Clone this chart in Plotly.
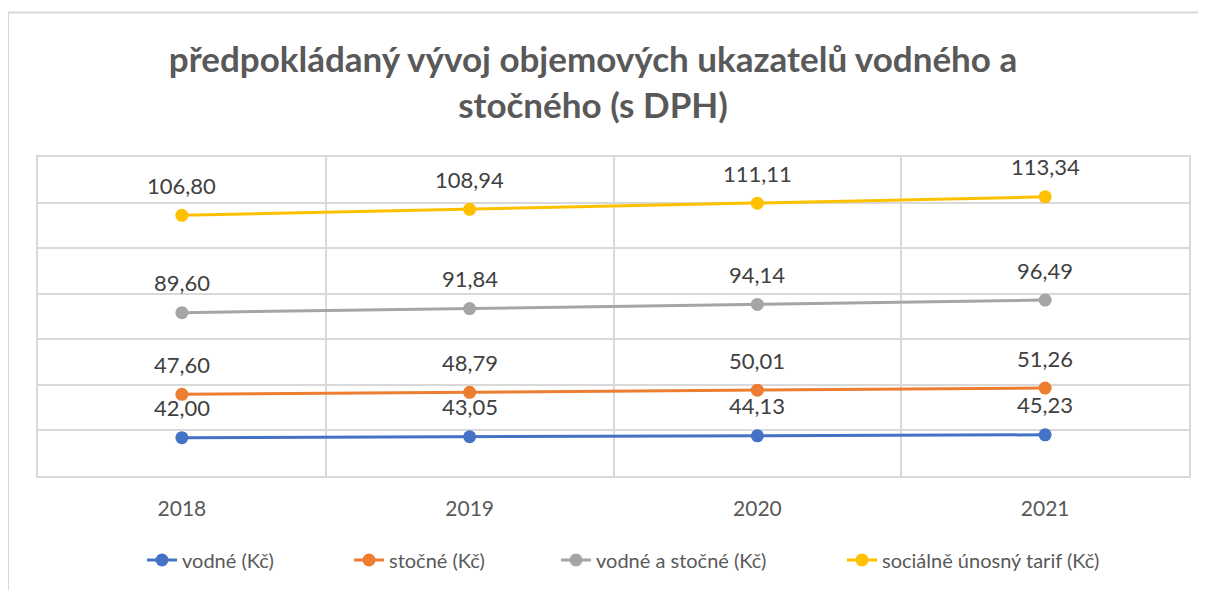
import numpy as np
import plotly.graph_objects as go

years = ["2018", "2019", "2020", "2021"]
vodne = [42.00, 43.05, 44.13, 45.23]
stocne = [47.60, 48.79, 50.01, 51.26]
vodne_a_stocne = [89.60, 91.84, 94.14, 96.49]
socialni_tarif = [106.80, 108.94, 111.11, 113.34]

series_names = ["vodné (Kč)", "stočné (Kč)", "vodné a stočné (Kč)", "sociálně únosný tarif (Kč)"]
series_values = [vodne, stocne, vodne_a_stocne, socialni_tarif]
colors = ["#4472C4", "#ED7D31", "#A5A5A5", "#FFC000"]

title_text = "předpokládaný vývoj objemových ukazatelů vodného a<br>stočného (s DPH)"

FONT = "Lato, Open Sans, sans-serif"
OFF = 8  # page body margin
W, H = 1206 - OFF, 590 - OFF
L, T = 38 - OFF, 157 - OFF
R, B = W - (1189 - OFF), H - (477 - OFF)
pw, ph = W - L - R, H - T - B


def px_x(p):
    return (p - OFF - L) / pw


def px_y(p):
    return (H - B - (p - OFF)) / ph


# stacked line chart: cumulative sums of the series
stacked = np.cumsum(np.array(series_values), axis=0)

legend_text_start = [184, 391, 598, 884]

fig = go.Figure()
annotations = []
layout_legends = {}
for k, (name, vals, cum, col) in enumerate(zip(series_names, series_values, stacked, colors)):
    lg = "legend" if k == 0 else f"legend{k + 1}"
    fig.add_trace(go.Scatter(
        x=list(range(len(years))), y=cum, name=name, mode="lines+markers",
        line=dict(color=col, width=3),
        marker=dict(color=col, size=13),
        hoverinfo="skip", legend=lg,
    ))
    layout_legends[lg] = dict(
        orientation="h", x=px_x(legend_text_start[k] - 42), xanchor="left",
        y=px_y(560), yanchor="middle", bgcolor="rgba(0,0,0,0)",
        font=dict(family=FONT, size=20, color="#595959"),
    )
    for i, (v, c) in enumerate(zip(vals, cum)):
        annotations.append(dict(
            x=i, y=c, xref="x", yref="y",
            text=f"{v:.2f}".replace(".", ","),
            showarrow=False, yshift=30,
            font=dict(family=FONT, size=22, color="#404040"),
        ))

fig.update_layout(
    width=W, height=H,
    margin=dict(l=L, r=R, t=T, b=B),
    paper_bgcolor="white", plot_bgcolor="white",
    title=dict(
        text=title_text,
        x=(593 - OFF) / W, xanchor="center", xref="container",
        y=1 - (72 - OFF) / H, yanchor="middle", yref="container",
        font=dict(family=FONT, size=35, color="#595959", weight="bold"),
    ),
    xaxis=dict(
        range=[-0.5, 3.5], tickmode="array",
        tickvals=list(range(len(years))), ticktext=years,
        showgrid=False,
        showline=True, linecolor="#D9D9D9", linewidth=1.5, mirror=True,
        ticks="", ticklabelstandoff=13,
        tickfont=dict(family=FONT, size=21, color="#595959"),
        zeroline=False, fixedrange=True,
        minor=dict(tickvals=[0.5, 1.5, 2.5], showgrid=True, gridcolor="#D9D9D9", gridwidth=1.5),
    ),
    yaxis=dict(
        range=[0, 350], dtick=50, tick0=0,
        showgrid=True, gridcolor="#D9D9D9", gridwidth=1.5,
        showline=True, linecolor="#D9D9D9", linewidth=1.5, mirror=True,
        showticklabels=False, ticks="", zeroline=False, fixedrange=True,
    ),
    showlegend=True,
    annotations=annotations,
    shapes=[dict(
        type="rect", xref="paper", yref="paper",
        x0=px_x(8), x1=px_x(1230), y0=px_y(620), y1=px_y(12),
        line=dict(color="#D9D9D9", width=2), fillcolor="rgba(0,0,0,0)", layer="below",
    )],
    **layout_legends,
)

fig.write_html("out.html")
